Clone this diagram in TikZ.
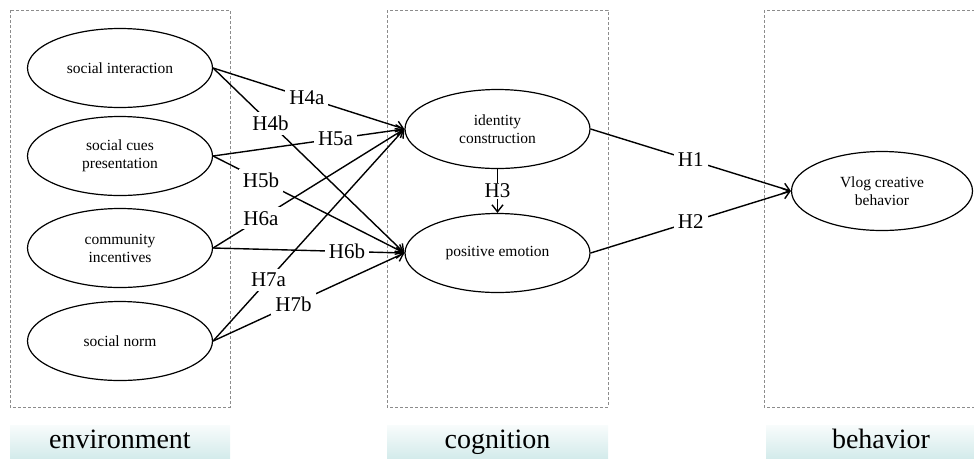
\documentclass[tikz,border=0pt]{standalone}
\usepackage{fontspec}
\setmainfont{Liberation Serif}
\usetikzlibrary{arrows.meta, positioning, shapes.geometric}

\definecolor{bandtop}{RGB}{248,252,252}
\definecolor{bandbot}{RGB}{212,235,235}

\begin{document}
\begin{tikzpicture}[x=1pt, y=-1pt,
    construct/.style={ellipse, draw, line width=1.2pt, minimum width=185pt, minimum height=79pt, inner sep=0pt, align=center, font=\fontsize{15.5}{18}\selectfont},
    arrow/.style={-{Straight Barb[length=7pt, width=11pt]}, line width=1.4pt},
    hyp/.style={fill=white, inner sep=4pt, font=\fontsize{21}{24}\selectfont},
    frame/.style={draw=gray!90, dash pattern=on 3pt off 2pt, line width=0.9pt},
    band/.style={minimum height=33pt, inner sep=0pt, text height=19pt, text depth=6pt, top color=bandtop, bottom color=bandbot, font=\fontsize{28}{30}\selectfont}
]
\useasboundingbox (0,0) rectangle (974,459);

% Dashed frames
\draw[frame] (10,10) rectangle (230,407);
\draw[frame] (387,10) rectangle (608,407);
\draw[frame] (764,10) rectangle (995,407);

% Frame captions
\node[band, minimum width=220pt] (envlab) at (120,441.5) {environment};
\node[band, minimum width=221pt] (coglab) at (497.5,441.5) {cognition};
\node[band, minimum width=230pt] (behlab) at (881,441.5) {behavior};

% Environment
\node[construct] (si) at (120,68) {social interaction};
\node[construct] (scp) at (120,156) {social cues\\presentation};
\node[construct] (ci) at (120,248) {community\\incentives};
\node[construct] (sn) at (120,341) {social norm};

% Cognition
\node[construct] (ic) at (497.5,129) {identity\\construction};
\node[construct] (pe) at (497.5,253) {positive emotion};

% Behavior
\node[construct, minimum width=181pt] (vcb) at (882,191) {Vlog creative\\behavior};

% Hypotheses
\path[arrow]
    (si.east) edge node[hyp, pos=0.49] {H4a} (ic.west)
    (si.east) edge node[hyp, pos=0.30] {H4b} (pe.west)
    (scp.east) edge node[hyp, pos=0.64] {H5a} (ic.west)
    (scp.east) edge node[hyp, pos=0.25] {H5b} (pe.west)
    (ci.east) edge node[hyp, pos=0.25] {H6a} (ic.west)
    (ci.east) edge node[hyp, pos=0.70] {H6b} (pe.west)
    (sn.east) edge node[hyp, pos=0.29] {H7a} (ic.west)
    (sn.east) edge node[hyp, pos=0.42] {H7b} (pe.west);

\path[arrow]
    (ic) edge node[hyp, inner sep=1pt] {H3} (pe)
    (ic.east) edge node[hyp] {H1} (vcb.west)
    (pe.east) edge node[hyp] {H2} (vcb.west);

\end{tikzpicture}
\end{document}
